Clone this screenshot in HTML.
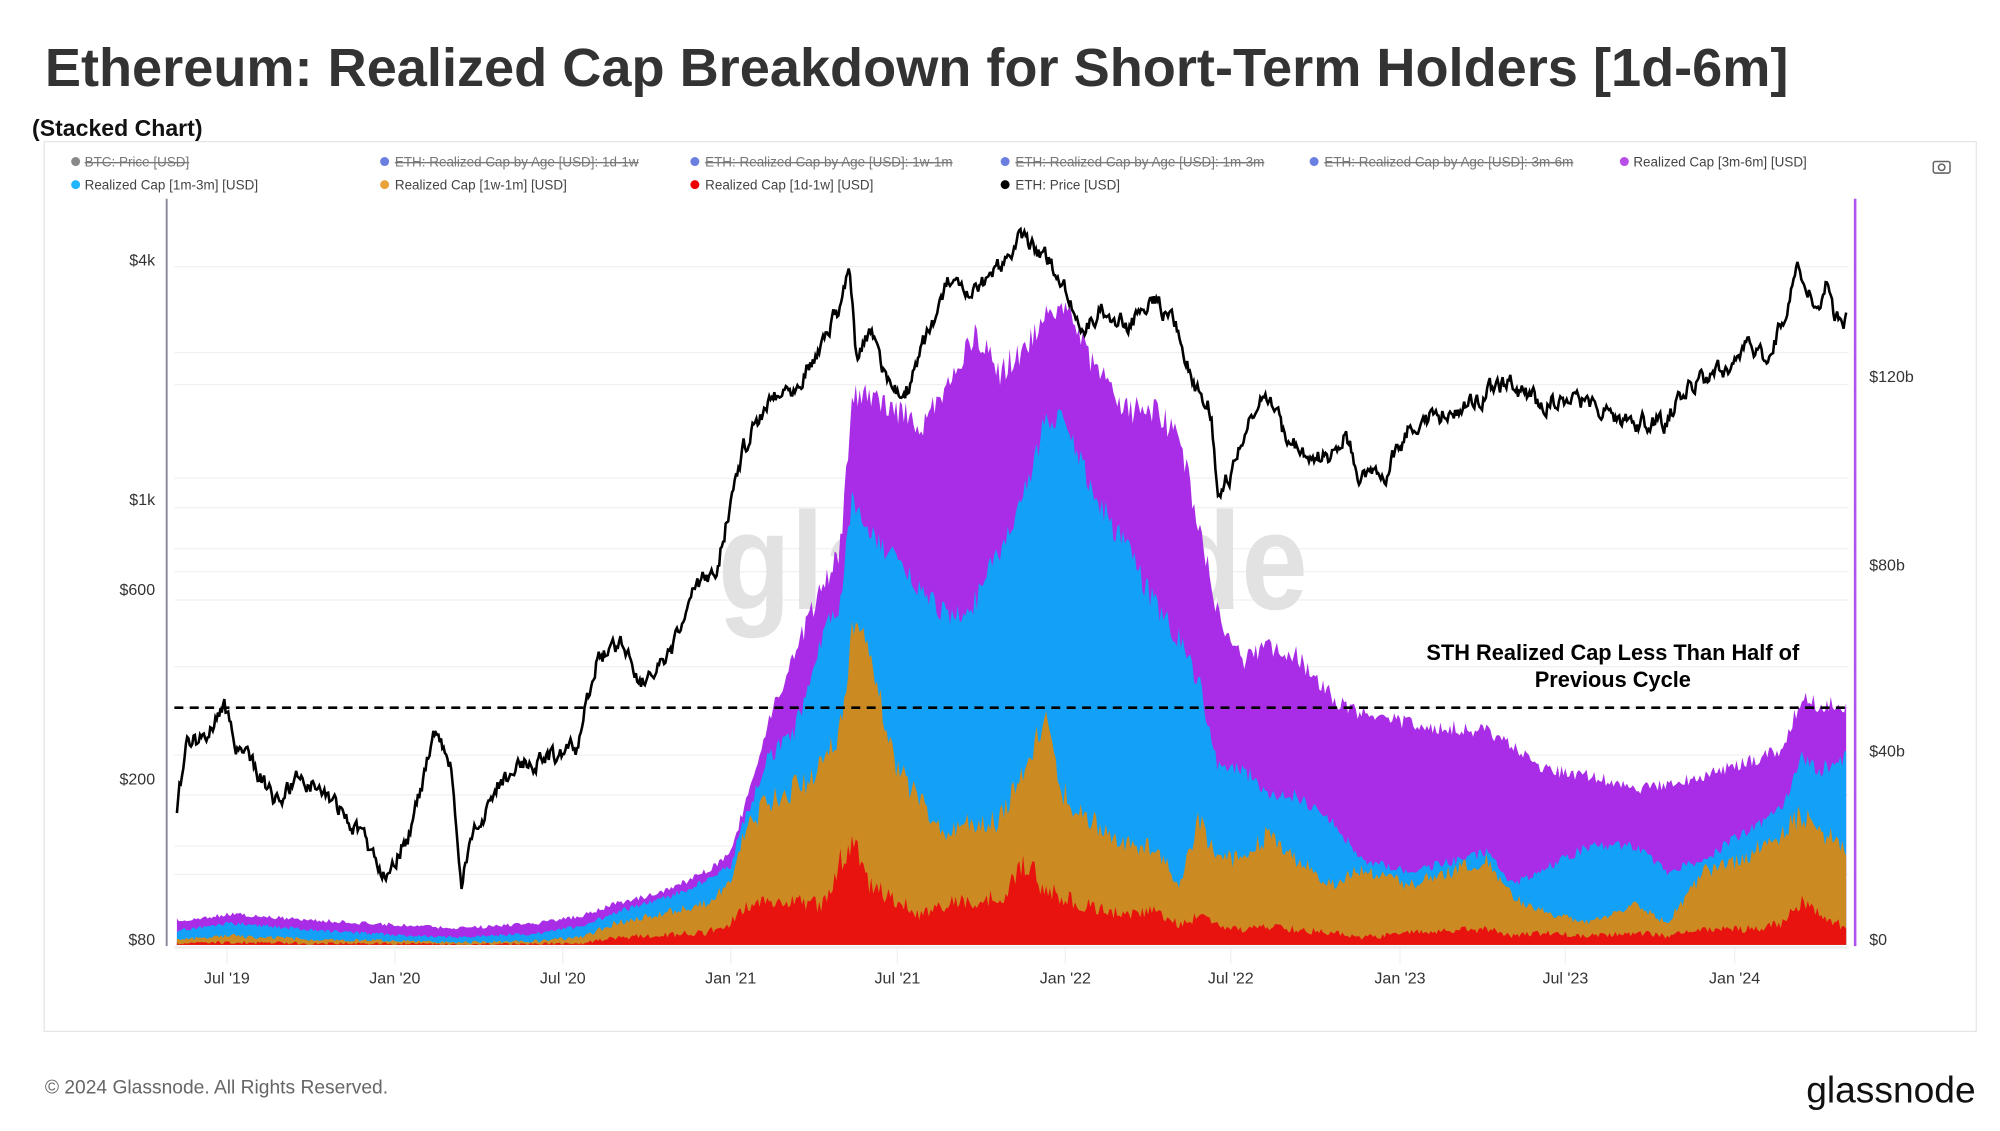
<!DOCTYPE html>
<html><head><meta charset="utf-8"><style>
html,body{margin:0;padding:0;background:#fff;width:2000px;height:1131px;overflow:hidden}
svg{display:block}
text{font-family:"Liberation Sans",sans-serif}
</style></head><body>
<svg id="s" width="2000" height="1131" viewBox="0 0 1560 882.2" preserveAspectRatio="none" xmlns="http://www.w3.org/2000/svg">
<text x="35" y="67" font-size="42" fill="#333" font-weight="bold" textLength="1360" lengthAdjust="spacingAndGlyphs">Ethereum: Realized Cap Breakdown for Short-Term Holders [1d-6m]</text>
<text x="25" y="106" font-size="18" font-weight="bold" fill="#111">(Stacked Chart)</text>
<rect x="34.5" y="110.5" width="1507" height="694" fill="#fff" stroke="#e6e6e6"/>
<g font-size="10.5" fill="#444">
<circle cx="59" cy="126" r="3.5" fill="#888"/><text x="66" y="130" fill="#777" text-decoration="line-through">BTC: Price [USD]</text>
<circle cx="300" cy="126" r="3.5" fill="#6b7fe0"/><text x="308" y="130" fill="#777" text-decoration="line-through">ETH: Realized Cap by Age [USD]: 1d-1w</text>
<circle cx="542" cy="126" r="3.5" fill="#6b7fe0"/><text x="550" y="130" fill="#777" text-decoration="line-through">ETH: Realized Cap by Age [USD]: 1w-1m</text>
<circle cx="784" cy="126" r="3.5" fill="#6b7fe0"/><text x="792" y="130" fill="#777" text-decoration="line-through">ETH: Realized Cap by Age [USD]: 1m-3m</text>
<circle cx="1025" cy="126" r="3.5" fill="#6b7fe0"/><text x="1033" y="130" fill="#777" text-decoration="line-through">ETH: Realized Cap by Age [USD]: 3m-6m</text>
<circle cx="1267" cy="126" r="3.5" fill="#b84de8"/><text x="1274" y="130">Realized Cap [3m-6m] [USD]</text>
<circle cx="59" cy="144" r="3.5" fill="#1fb6ff"/><text x="66" y="148">Realized Cap [1m-3m] [USD]</text>
<circle cx="300" cy="144" r="3.5" fill="#e8a33a"/><text x="308" y="148">Realized Cap [1w-1m] [USD]</text>
<circle cx="542" cy="144" r="3.5" fill="#e00"/><text x="550" y="148">Realized Cap [1d-1w] [USD]</text>
<circle cx="784" cy="144" r="3.5" fill="#000"/><text x="792" y="148">ETH: Price [USD]</text>
</g>
<g stroke="#666" fill="none" stroke-width="1.2"><rect x="1508" y="126" width="13" height="9" rx="1.5"/><circle cx="1514.5" cy="130.5" r="2.5"/></g>
<g id="grid" stroke="#f0f0f0" stroke-width="1"></g>
<text x="560" y="475" font-size="108" fill="#e2e2e2" font-weight="bold" textLength="460" lengthAdjust="spacingAndGlyphs">glassnode</text>
<g id="areas"></g>
<path id="price" fill="none" stroke="#000" stroke-width="2"/>
<line x1="136" y1="552" x2="1440" y2="552" stroke="#000" stroke-width="2" stroke-dasharray="7,5"/>
<text x="1258" y="515" font-size="17" font-weight="bold" text-anchor="middle">STH Realized Cap Less Than Half of</text>
<text x="1258" y="536" font-size="17" font-weight="bold" text-anchor="middle">Previous Cycle</text>
<line x1="130" y1="155" x2="130" y2="738" stroke="#889" stroke-width="1.5"/>
<line x1="1447" y1="155" x2="1447" y2="738" stroke="#b050f0" stroke-width="2"/>
<line x1="136" y1="739" x2="1442" y2="739" stroke="#eee" stroke-width="2"/>
<g font-size="12.5" fill="#333" text-anchor="end">
<text x="121" y="207">$4k</text><text x="121" y="394">$1k</text><text x="121" y="464">$600</text><text x="121" y="612">$200</text><text x="121" y="737">$80</text>
</g>
<g font-size="12.5" fill="#333">
<text x="1458" y="298">$120b</text><text x="1458" y="445">$80b</text><text x="1458" y="590">$40b</text><text x="1458" y="737">$0</text>
</g>
<g id="xl" font-size="12.5" fill="#333" text-anchor="middle"></g>
<text x="35" y="853" font-size="15" fill="#666">© 2024 Glassnode. All Rights Reserved.</text>
<text x="1541" y="860" font-size="29" fill="#111" text-anchor="end">glassnode</text>
</svg>
<script>
var NS="http://www.w3.org/2000/svg";
function el(t,a,p){var e=document.createElementNS(NS,t);for(var k in a)e.setAttribute(k,a[k]);if(p)p.appendChild(e);return e;}
var g=document.getElementById('grid');
[208,275,300,373,396,428,446,468,520,552,589,620,660,682].forEach(function(y){el('line',{x1:136,x2:1442,y1:y,y2:y},g);});
var xl=document.getElementById('xl');
[[177,"Jul '19"],[308,"Jan '20"],[439,"Jul '20"],[570,"Jan '21"],[700,"Jul '21"],[831,"Jan '22"],[960,"Jul '22"],[1092,"Jan '23"],[1221,"Jul '23"],[1353,"Jan '24"]].forEach(function(d){var t=el('text',{x:d[0],y:767},xl);t.textContent=d[1];el('line',{x1:d[0],x2:d[0],y1:740,y2:752,stroke:"#f0f0f0"},g);});
var K=[[138,718,726,733,736],[180,713,720,730,735],[250,718,726,733,736],[320,722,730,734,736],[360,724,731,735,737],[420,720,728,734,736],[455,714,722,731,736],[480,705,712,720,733],[520,695,700,712,731],[550,680,688,705,730],[570,665,675,690,725],[580,630,640,650,715],[600,560,590,625,712],[620,510,570,615,710],[640,460,500,600,715],[655,430,470,570,690],[665,310,390,490,675],[675,310,410,500,700],[700,320,440,600,712],[720,330,460,630,720],[740,300,480,650,712],[760,260,470,640,712],[780,290,430,640,710],[800,270,380,600,690],[815,250,330,560,705],[830,235,325,620,710],[850,280,380,640,715],[880,320,430,660,720],[900,320,470,660,718],[920,340,500,690,725],[935,410,530,640,720],[950,480,600,670,726],[970,515,600,670,728],[990,505,620,650,726],[1010,510,620,670,728],[1040,545,640,690,730],[1060,555,670,680,733],[1100,565,680,690,730],[1160,570,665,670,728],[1180,580,690,700,732],[1200,600,680,710,730],[1240,605,660,720,732],[1275,615,660,705,730],[1300,612,680,720,732],[1330,605,670,680,728],[1360,595,650,670,728],[1390,585,630,650,725],[1405,545,590,635,712],[1420,550,600,650,720],[1440,550,590,660,727]];
var seed=7;function rnd(){seed=(seed*16807)%2147483647;return seed/2147483647;}
function interp(arr,x,i){for(var j=0;j<arr.length-1;j++){if(x>=arr[j][0]&&x<=arr[j+1][0]){var t=(x-arr[j][0])/(arr[j+1][0]-arr[j][0]);return arr[j][i]+(arr[j+1][i]-arr[j][i])*t;}}return arr[arr.length-1][i];}
var B=737,cols=["#a92de6","#12a1f7","#cc8a22","#e8130f"],pts=[[],[],[],[]];
var amp=[0.06,0.08,0.18,0.35];
for(var x=138;x<=1440;x+=1.5){var v=[];for(var i=1;i<=4;i++){var y=interp(K,x,i);if(i==4&&x>455)y=B-(B-y)*1.35;var th=B-y;y+=(rnd()-0.5)*Math.min(22,th*amp[i-1]+2);v.push(y);}
for(i=1;i<4;i++)if(v[i]<v[i-1])v[i]=v[i-1];for(i=0;i<4;i++){v[i]=Math.min(v[i],B);pts[i].push(x.toFixed(1)+","+v[i].toFixed(1));}}
var ar=document.getElementById('areas');
for(var i=0;i<4;i++){el('polygon',{points:"138,"+B+" "+pts[i].join(" ")+" 1440,"+B,fill:cols[i]},ar);}
var P=[[138,635],[145,580],[160,575],[175,548],[185,585],[200,600],[215,625],[235,605],[260,625],[280,650],[300,680],[320,650],[340,570],[352,600],[360,690],[370,650],[390,610],[410,595],[430,590],[450,585],[465,515],[485,500],[500,530],[520,520],[540,465],[560,440],[570,390],[580,350],[600,310],[620,300],[640,270],[655,240],[662,205],[668,280],[680,260],[690,290],[700,310],[710,300],[720,270],[740,220],[755,235],[770,220],[785,200],[793,185],[810,195],[830,220],[845,260],[860,240],[880,255],[900,230],[920,260],[930,300],[945,320],[950,385],[960,370],[975,330],[990,305],[1000,335],[1020,360],[1040,355],[1050,335],[1060,375],[1080,370],[1100,330],[1120,325],[1140,320],[1160,305],[1180,300],[1200,315],[1220,310],[1240,315],[1260,325],[1280,330],[1300,330],[1310,310],[1330,295],[1350,285],[1365,270],[1380,280],[1390,250],[1403,208],[1410,230],[1420,235],[1425,220],[1430,245],[1440,250]];
var d="",w=0;for(var x=138;x<=1440;x+=1){w=w*0.6+(rnd()-0.5)*12;var y=interp(P,x,1)+w;d+=(x==138?"M":"L")+x+","+y.toFixed(1);}
document.getElementById('price').setAttribute('d',d);
</script>
</body></html>
